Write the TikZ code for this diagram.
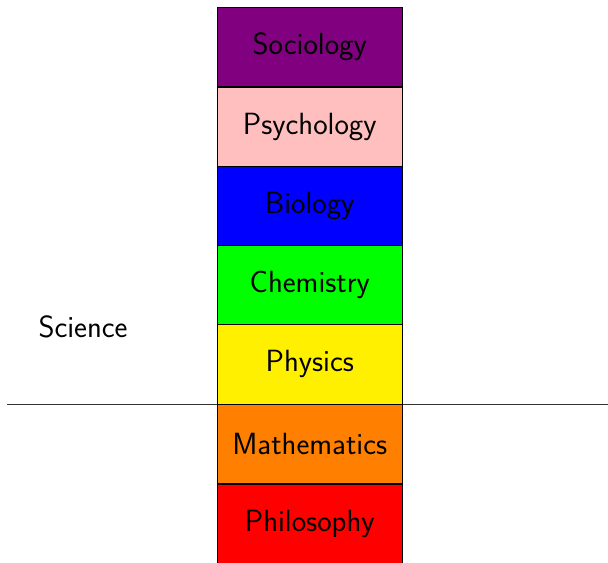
\documentclass[tikz,border=0pt]{standalone}
\usepackage{xcolor}
\definecolor{socpurple}{RGB}{128,0,128}
\definecolor{psypink}{RGB}{255,191,191}
\definecolor{bioblue}{RGB}{0,0,255}
\definecolor{chemgreen}{RGB}{0,255,0}
\definecolor{physyellow}{RGB}{255,240,0}
\definecolor{mathorange}{RGB}{255,128,0}
\definecolor{philred}{RGB}{255,0,0}
\begin{document}
\begin{tikzpicture}[x=0.75pt,y=-0.75pt,
  layer/.style={draw=black,line width=0.5pt,rectangle,minimum width=185.5*0.75pt,minimum height=79.3*0.75pt,inner sep=0pt,font=\sffamily\fontsize{23}{26}\selectfont},
  lbl/.style={font=\sffamily\fontsize{23}{26}\selectfont,inner sep=0pt},
  divider/.style={draw=black!80,line width=0.6pt}]
\useasboundingbox (0,0) rectangle (608,562);
\coordinate (dl) at (7,404.5);
\coordinate (dr) at (608,404.5);
\draw[divider] (dl) -- (dr);
\node[layer,fill=socpurple] (soc) at (309.75,47) {Sociology};
\node[layer,fill=psypink] (psy) at (309.75,126.5) {Psychology};
\node[layer,fill=bioblue] (bio) at (309.75,205.8) {Biology};
\node[layer,fill=chemgreen] (chem) at (309.75,285.1) {Chemistry};
\node[layer,fill=physyellow] (phys) at (309.75,364.4) {Physics};
\node[layer,fill=mathorange] (math) at (309.75,444) {Mathematics};
\node[layer,fill=philred] (phil) at (309.75,523.5) {Philosophy};
\node[lbl] (sci) at (83,327) {Science};
\end{tikzpicture}
\end{document}
